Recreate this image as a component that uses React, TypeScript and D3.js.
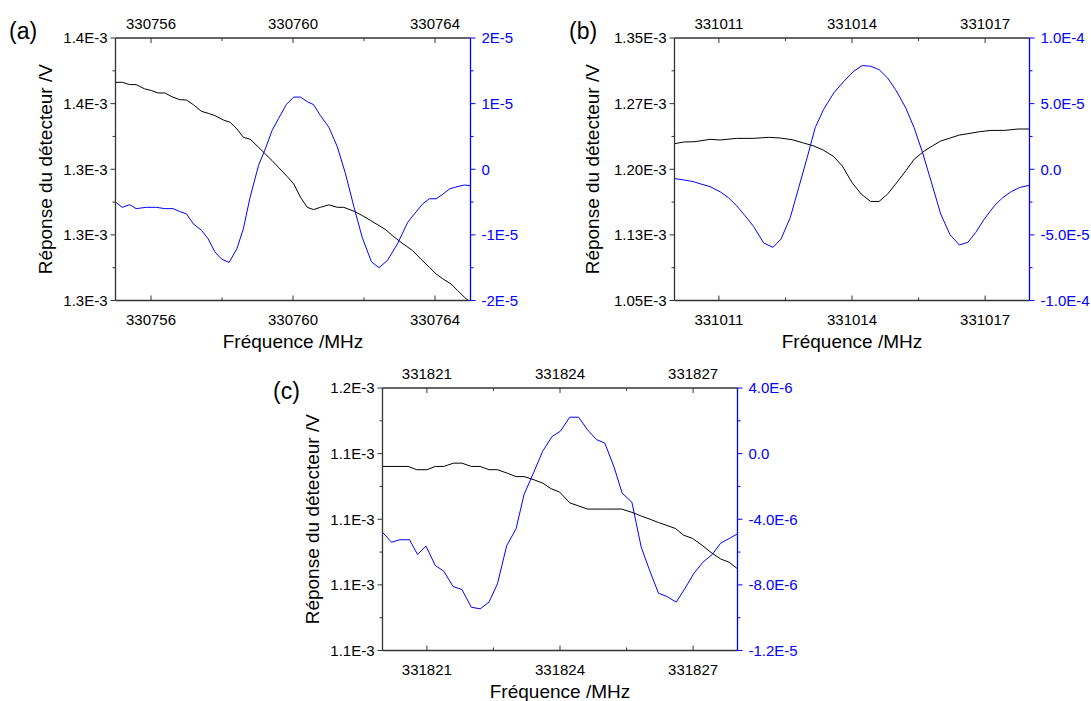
import React from "react";
import * as d3 from "d3";

// ---------- Panel (a) ----------
const baseA = 330755;
const spanA = 10;
const xMajorA = [330756, 330760, 330764];
const xMinorA = [330758, 330762];
const xLabelsA = ["330756", "330760", "330764"];
const yLeftTicksA = [1.26, 1.30, 1.34, 1.38, 1.42];
const yLeftMinorA = [1.28, 1.32, 1.36, 1.40];
const yLeftLabelsA = ["1.3E-3", "1.3E-3", "1.3E-3", "1.4E-3", "1.4E-3"];
const yRightTicksA = [-2, -1, 0, 1, 2];
const yRightMinorA = [-1.5, -0.5, 0.5, 1.5];
const yRightLabelsA = ["-2E-5", "-1E-5", "0", "1E-5", "2E-5"];
const offA_black = [0, 0.19, 0.40, 0.58, 0.82, 1.01, 1.20, 1.39, 1.62, 1.81, 2.00, 2.19, 2.42, 2.61, 2.80, 3.04, 3.23, 3.42, 3.60, 3.79, 4.03, 4.22, 4.41, 4.59, 4.83, 5.02, 5.21, 5.40, 5.58, 5.77, 6.01, 6.25, 6.43, 6.72, 6.95, 7.19, 7.42, 7.61, 7.80, 8.04, 8.37, 8.60, 8.84, 9.03, 9.22, 9.45, 9.64, 9.83, 9.94];
const blackA = [1.393, 1.393, 1.3916, 1.3916, 1.389, 1.388, 1.3865, 1.3865, 1.3839, 1.3824, 1.3822, 1.3794, 1.3753, 1.3741, 1.3727, 1.370, 1.3686, 1.3646, 1.3595, 1.3583, 1.3534, 1.3493, 1.3453, 1.3412, 1.3357, 1.3311, 1.323, 1.3168, 1.3154, 1.3168, 1.3183, 1.3168, 1.3168, 1.3144, 1.3118, 1.3087, 1.3057, 1.3032, 1.2996, 1.2955, 1.2904, 1.2853, 1.2803, 1.2762, 1.2732, 1.2701, 1.266, 1.262, 1.26];
const offA_blue = [0, 0.19, 0.40, 0.58, 0.87, 1.15, 1.39, 1.62, 1.81, 2.00, 2.19, 2.42, 2.61, 2.80, 2.99, 3.20, 3.42, 3.60, 3.79, 4.03, 4.22, 4.41, 4.59, 4.81, 5.02, 5.21, 5.40, 5.58, 5.77, 6.01, 6.25, 6.48, 6.72, 6.95, 7.21, 7.42, 7.66, 7.94, 8.23, 8.42, 8.65, 8.84, 9.03, 9.22, 9.41, 9.59, 9.83, 10.0];
const blueA = [-0.50, -0.58, -0.54, -0.60, -0.58, -0.58, -0.60, -0.60, -0.645, -0.68, -0.83, -0.93, -1.06, -1.26, -1.37, -1.42, -1.21, -0.91, -0.43, 0.06, 0.31, 0.59, 0.77, 0.985, 1.10, 1.10, 1.03, 0.985, 0.82, 0.64, 0.34, -0.07, -0.58, -1.04, -1.41, -1.50, -1.39, -1.14, -0.81, -0.68, -0.53, -0.45, -0.45, -0.38, -0.30, -0.27, -0.24, -0.25];

// ---------- Panel (b) ----------
const baseB = 331010;
const spanB = 8;
const xMajorB = [331011, 331014, 331017];
const xMinorB = [331012.5, 331015.5];
const xLabelsB = ["331011", "331014", "331017"];
const yLeftTicksB = [1.05, 1.125, 1.20, 1.275, 1.35];
const yLeftMinorB = [1.0875, 1.1625, 1.2375, 1.3125];
const yLeftLabelsB = ["1.05E-3", "1.13E-3", "1.20E-3", "1.27E-3", "1.35E-3"];
const yRightTicksB = [-10, -5, 0, 5, 10];
const yRightMinorB = [-7.5, -2.5, 2.5, 7.5];
const yRightLabelsB = ["-1.0E-4", "-5.0E-5", "0.0", "5.0E-5", "1.0E-4"];
const offB_black = [0, 0.20, 0.46, 0.80, 1.03, 1.40, 1.78, 2.12, 2.38, 2.65, 2.91, 3.14, 3.36, 3.59, 3.78, 4.00, 4.21, 4.42, 4.61, 4.80, 4.98, 5.21, 5.40, 5.63, 5.81, 6.00, 6.19, 6.42, 6.61, 6.87, 7.13, 7.44, 7.74, 8.0];
const blackB = [1.2292, 1.2311, 1.2315, 1.2342, 1.2334, 1.2353, 1.2353, 1.2365, 1.2357, 1.2338, 1.230, 1.2266, 1.2217, 1.2144, 1.2038, 1.1848, 1.1715, 1.1632, 1.1632, 1.1715, 1.1829, 1.1981, 1.2114, 1.2209, 1.2266, 1.2323, 1.2353, 1.2391, 1.2406, 1.2429, 1.2444, 1.2444, 1.246, 1.246];
const offB_blue = [0, 0.20, 0.42, 0.61, 0.80, 1.03, 1.21, 1.40, 1.59, 1.78, 2.01, 2.22, 2.40, 2.61, 2.80, 2.99, 3.17, 3.36, 3.59, 3.82, 4.04, 4.23, 4.42, 4.61, 4.80, 4.98, 5.21, 5.40, 5.59, 5.78, 6.00, 6.21, 6.42, 6.61, 6.79, 6.98, 7.21, 7.40, 7.59, 7.78, 8.0];
const blueB = [-0.71, -0.81, -0.94, -1.14, -1.32, -1.72, -2.15, -2.78, -3.54, -4.35, -5.62, -5.95, -5.32, -3.67, -1.39, 0.89, 3.16, 4.56, 5.82, 6.71, 7.47, 7.90, 7.85, 7.59, 6.96, 6.08, 4.68, 3.16, 1.27, -0.89, -3.42, -4.99, -5.77, -5.57, -4.81, -3.80, -2.78, -2.15, -1.70, -1.39, -1.22];

// ---------- Panel (c) ----------
const baseC = 331820;
const spanC = 8;
const xMajorC = [331821, 331824, 331827];
const xMinorC = [331822.5, 331825.5];
const xLabelsC = ["331821", "331824", "331827"];
const yLeftTicksC = [1.08, 1.10, 1.12, 1.14, 1.16];
const yLeftMinorC = [1.09, 1.11, 1.13, 1.15];
const yLeftLabelsC = ["1.1E-3", "1.1E-3", "1.1E-3", "1.1E-3", "1.2E-3"];
const yRightTicksC = [-12, -8, -4, 0, 4];
const yRightMinorC = [-10, -6, -2, 2];
const yRightLabelsC = ["-1.2E-5", "-8.0E-6", "-4.0E-6", "0.0", "4.0E-6"];
const offC_black = [0, 0.58, 0.77, 1.00, 1.19, 1.38, 1.60, 1.79, 2.00, 2.20, 2.40, 2.59, 2.82, 3.01, 3.19, 3.42, 3.61, 3.80, 3.99, 4.22, 4.41, 4.62, 5.01, 5.39, 5.62, 5.81, 6.03, 6.22, 6.41, 6.60, 6.79, 6.98, 7.21, 7.40, 7.62, 7.81, 8.00];
const blackC = [1.1361, 1.1361, 1.1351, 1.1351, 1.1361, 1.1361, 1.1371, 1.1371, 1.1361, 1.1361, 1.1351, 1.1351, 1.134, 1.133, 1.133, 1.132, 1.131, 1.1293, 1.1283, 1.125, 1.1241, 1.1231, 1.1231, 1.1231, 1.1221, 1.1211, 1.12, 1.119, 1.1181, 1.1172, 1.1151, 1.1142, 1.112, 1.1099, 1.1079, 1.1069, 1.1049];
const offC_blue = [0, 0.20, 0.39, 0.61, 0.79, 0.98, 1.19, 1.38, 1.59, 1.79, 2.00, 2.20, 2.40, 2.59, 2.80, 3.01, 3.19, 3.41, 3.61, 3.82, 4.01, 4.22, 4.42, 4.62, 4.82, 5.01, 5.22, 5.40, 5.62, 5.83, 6.02, 6.22, 6.41, 6.62, 6.81, 7.02, 7.22, 7.43, 7.62, 7.83, 8.00];
const blueC = [-4.79, -5.40, -5.25, -5.25, -6.15, -5.64, -6.82, -7.16, -8.10, -8.28, -9.36, -9.46, -9.05, -7.94, -5.60, -4.58, -2.49, -1.13, 0.15, 1.04, 1.37, 2.22, 2.22, 1.45, 0.86, 0.64, -0.83, -2.41, -2.96, -5.70, -7.12, -8.51, -8.71, -9.05, -8.24, -7.29, -6.62, -6.15, -5.46, -5.15, -4.89];

const Y_TITLE = "Réponse du détecteur /V";
const X_TITLE = "Fréquence /MHz";
const FONT = "'Liberation Sans', Arial, Helvetica, sans-serif";
const BLUE = "#0000ff";
const AXIS = "#333";

const W = 355;
const H = 262.5;

type Spec = {
  id: string;
  letter: string;
  left: number;
  top: number;
  letterX: number;
  letterY: number;
  yTitleOffset: number;
  base: number;
  span: number;
  xMajor: number[];
  xMinor: number[];
  xLabels: string[];
  yLT: number[];
  yLMinor: number[];
  yLLabels: string[];
  yRT: number[];
  yRMinor: number[];
  yRLabels: string[];
  offBlack: number[];
  black: number[];
  offBlue: number[];
  blue: number[];
};

const specs: Spec[] = [
  {
    id: "a", letter: "(a)", left: 115.5, top: 38, letterX: 9, letterY: 38.5, yTitleOffset: 64,
    base: baseA, span: spanA, xMajor: xMajorA, xMinor: xMinorA, xLabels: xLabelsA,
    yLT: yLeftTicksA, yLMinor: yLeftMinorA, yLLabels: yLeftLabelsA,
    yRT: yRightTicksA, yRMinor: yRightMinorA, yRLabels: yRightLabelsA,
    offBlack: offA_black, black: blackA, offBlue: offA_blue, blue: blueA,
  },
  {
    id: "b", letter: "(b)", left: 674.5, top: 38, letterX: 569, letterY: 38.5, yTitleOffset: 76,
    base: baseB, span: spanB, xMajor: xMajorB, xMinor: xMinorB, xLabels: xLabelsB,
    yLT: yLeftTicksB, yLMinor: yLeftMinorB, yLLabels: yLeftLabelsB,
    yRT: yRightTicksB, yRMinor: yRightMinorB, yRLabels: yRightLabelsB,
    offBlack: offB_black, black: blackB, offBlue: offB_blue, blue: blueB,
  },
  {
    id: "c", letter: "(c)", left: 382.5, top: 388, letterX: 273, letterY: 398.5, yTitleOffset: 64,
    base: baseC, span: spanC, xMajor: xMajorC, xMinor: xMinorC, xLabels: xLabelsC,
    yLT: yLeftTicksC, yLMinor: yLeftMinorC, yLLabels: yLeftLabelsC,
    yRT: yRightTicksC, yRMinor: yRightMinorC, yRLabels: yRightLabelsC,
    offBlack: offC_black, black: blackC, offBlue: offC_blue, blue: blueC,
  },
];

function Panel({ s }: { s: Spec }) {
  const left = s.left;
  const right = s.left + W;
  const top = s.top;
  const bottom = s.top + H;
  const x = d3.scaleLinear().domain([s.base, s.base + s.span]).range([left, right]);
  const yL = d3.scaleLinear().domain([s.yLT[0], s.yLT[s.yLT.length - 1]]).range([bottom, top]);
  const yR = d3.scaleLinear().domain([s.yRT[0], s.yRT[s.yRT.length - 1]]).range([bottom, top]);

  const blackPts: [number, number][] = s.offBlack.map((o, i) => [s.base + o, s.black[i]]);
  const bluePts: [number, number][] = s.offBlue.map((o, i) => [s.base + o, s.blue[i]]);
  const lineL = d3.line<[number, number]>().x((d) => x(d[0])).y((d) => yL(d[1]));
  const lineR = d3.line<[number, number]>().x((d) => x(d[0])).y((d) => yR(d[1]));
  const clipId = "clip-" + s.id;
  const cx = (left + right) / 2;
  const cy = (top + bottom) / 2;

  return (
    <g>
      <defs>
        <clipPath id={clipId}>
          <rect x={left} y={top - 1} width={W} height={H + 2} />
        </clipPath>
      </defs>
      <g clipPath={`url(#${clipId})`}>
        <path d={lineL(blackPts) || ""} fill="none" stroke="#000" strokeWidth={1} />
        <path d={lineR(bluePts) || ""} fill="none" stroke={BLUE} strokeWidth={1} />
      </g>
      {/* frame lines */}
      <line x1={left} x2={right} y1={top} y2={top} stroke={AXIS} strokeWidth={1.3} />
      <line x1={left} x2={right} y1={bottom} y2={bottom} stroke={AXIS} strokeWidth={1.3} />
      <line x1={left} x2={left} y1={top} y2={bottom} stroke={AXIS} strokeWidth={1.3} />
      <line x1={right} x2={right} y1={top} y2={bottom} stroke={BLUE} strokeWidth={1.3} />

      {/* x ticks (inward) top and bottom */}
      {s.xMajor.map((v, i) => (
        <g key={"xm" + i}>
          <line x1={x(v)} x2={x(v)} y1={top} y2={top + 5} stroke={AXIS} strokeWidth={1} />
          <line x1={x(v)} x2={x(v)} y1={bottom} y2={bottom - 5} stroke={AXIS} strokeWidth={1} />
          <text x={x(v)} y={top - 9.5} textAnchor="middle" fontSize={15} fontFamily={FONT} fill="#000">
            {s.xLabels[i]}
          </text>
          <text x={x(v)} y={bottom + 24.5} textAnchor="middle" fontSize={15} fontFamily={FONT} fill="#000">
            {s.xLabels[i]}
          </text>
        </g>
      ))}
      {s.xMinor.map((v, i) => (
        <g key={"xn" + i}>
          <line x1={x(v)} x2={x(v)} y1={top} y2={top + 3} stroke={AXIS} strokeWidth={1} />
          <line x1={x(v)} x2={x(v)} y1={bottom} y2={bottom - 3} stroke={AXIS} strokeWidth={1} />
        </g>
      ))}

      {/* left y ticks (outward) */}
      {s.yLT.map((v, i) => (
        <g key={"yl" + i}>
          <line x1={left - 5} x2={left} y1={yL(v)} y2={yL(v)} stroke={AXIS} strokeWidth={1} />
          <text x={left - 8} y={yL(v)} dy="0.36em" textAnchor="end" fontSize={15} fontFamily={FONT} fill="#000">
            {s.yLLabels[i]}
          </text>
        </g>
      ))}
      {s.yLMinor.map((v, i) => (
        <line key={"yln" + i} x1={left - 3} x2={left} y1={yL(v)} y2={yL(v)} stroke={AXIS} strokeWidth={1} />
      ))}

      {/* right y ticks (outward, blue) */}
      {s.yRT.map((v, i) => (
        <g key={"yr" + i}>
          <line x1={right} x2={right + 5} y1={yR(v)} y2={yR(v)} stroke={BLUE} strokeWidth={1} />
          <text x={right + 11} y={yR(v)} dy="0.36em" textAnchor="start" fontSize={15} fontFamily={FONT} fill={BLUE}>
            {s.yRLabels[i]}
          </text>
        </g>
      ))}
      {s.yRMinor.map((v, i) => (
        <line key={"yrn" + i} x1={right} x2={right + 3} y1={yR(v)} y2={yR(v)} stroke={BLUE} strokeWidth={1} />
      ))}

      {/* titles */}
      <text x={cx} y={bottom + 47} textAnchor="middle" fontSize={19} fontFamily={FONT} fill="#000">
        {X_TITLE}
      </text>
      <text
        transform={`translate(${left - s.yTitleOffset},${cy}) rotate(-90)`}
        textAnchor="middle"
        fontSize={19}
        fontFamily={FONT}
        fill="#000"
      >
        {Y_TITLE}
      </text>
      <text x={s.letterX} y={s.letterY} fontSize={23} fontFamily={FONT} fill="#000">
        {s.letter}
      </text>
    </g>
  );
}

export default function App() {
  return (
    <svg
      width={1091}
      height={701}
      viewBox="0 0 1091 701"
      style={{ position: "absolute", left: 0, top: 0, background: "#fff" }}
    >
      <rect x={0} y={0} width={1091} height={701} fill="#fff" />
      {specs.map((s) => (
        <Panel key={s.id} s={s} />
      ))}
    </svg>
  );
}
